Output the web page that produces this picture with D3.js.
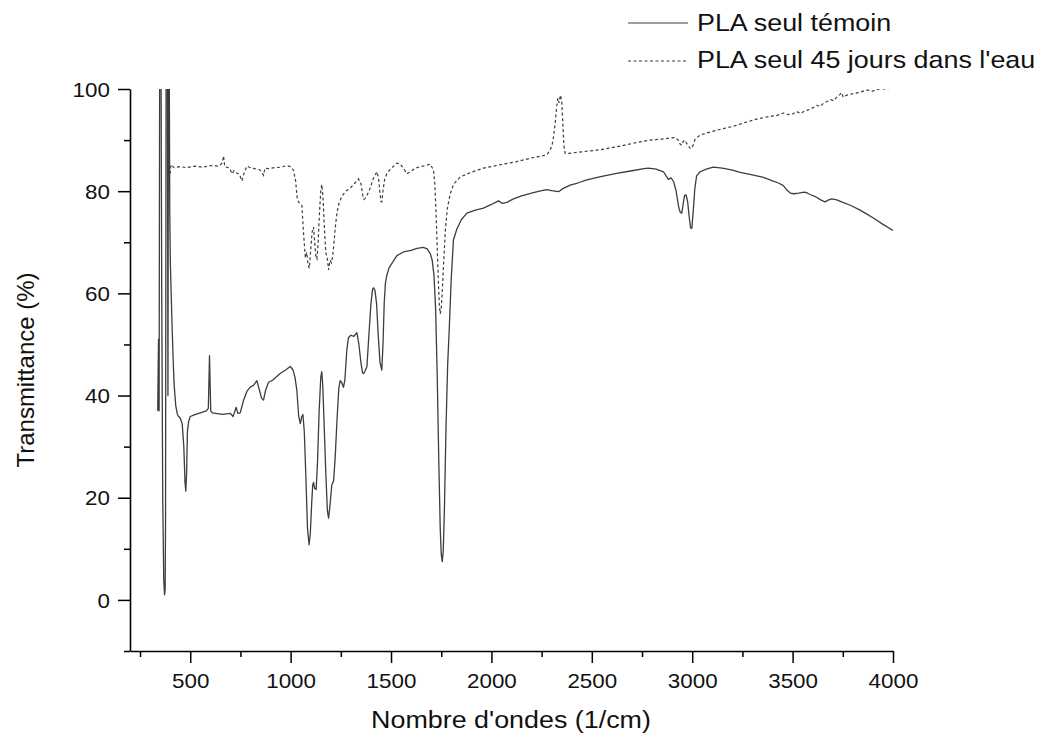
<!DOCTYPE html>
<html>
<head>
<meta charset="utf-8">
<script src="https://cdn.jsdelivr.net/npm/d3@7"></script>
<style>
  body { margin: 0; background: #fff; }
  svg { display: block; font-family: "Liberation Sans", Arial, sans-serif; }
</style>
</head>
<body>
<div id="chart"></div>
<script>
// ---------------------------------------------------------
// DATA  (wavenumber 1/cm, transmittance %)
// ---------------------------------------------------------
const seriesNames = ["PLA seul témoin", "PLA seul 45 jours dans l'eau"];

// PLA seul témoin (solid)
const temoin = [
  [338,37],[342,51],[345,37],[348,112],[354,112],[358,60],[363,20],[368,4],[372,1],[375,2],
  [377,15],[380,112],[386,112],[389,40],[392,112],[395,112],[398,76],[401,66],[405,60],[410,53],
  [415,47],[420,42],[428,38],[435,36.5],[440,36],[450,35.6],[460,34.5],[468,30],[474,23],[478,21.3],
  [482,25],[486,33],[492,34.9],[500,35.9],[520,36.2],[550,36.6],[580,37],[590,37.5],[596,47.8],[602,37],
  [610,36.6],[660,36.3],[700,36.5],[713,35.9],[721,36.8],[729,37.7],[737,36.5],[749,36.6],[765,39],[782,40.8],
  [800,41.7],[815,42],[832,42.9],[845,41],[855,39.5],[865,39.1],[875,41],[890,42.6],[910,43],[948,44.3],
  [975,45],[998,45.7],[1012,45],[1022,43.5],[1031,41],[1040,36],[1048,34.5],[1055,35.8],[1061,36.3],[1068,33],
  [1076,24],[1084,14],[1092,10.8],[1098,13],[1105,19],[1110,22.5],[1114,23],[1120,21.8],[1127,21.6],[1134,27],
  [1142,37],[1150,43.5],[1155,44.7],[1160,42],[1168,33],[1176,24],[1183,17.5],[1189,16],[1196,18.5],[1205,22.5],
  [1214,23.3],[1222,28],[1232,36],[1240,41.5],[1247,42.9],[1255,42.5],[1263,41.6],[1270,43],[1280,49],[1288,51.3],
  [1300,51.8],[1315,51.6],[1330,52.3],[1340,50],[1350,46.5],[1358,44.5],[1363,44.3],[1371,44.8],[1380,45.7],[1390,52],
  [1400,58],[1408,60.8],[1413,61.1],[1420,60.6],[1428,58],[1436,52],[1445,46.5],[1454,45],[1460,50],[1466,58],
  [1472,62],[1479,63.5],[1490,65],[1510,66.2],[1529,67.4],[1562,68.1],[1600,68.4],[1629,68.8],[1661,69],[1680,68.7],
  [1695,67.8],[1705,66.5],[1714,63.5],[1722,57],[1730,44],[1738,27],[1745,14],[1750,9],[1755,7.5],[1760,9.5],
  [1766,18],[1774,34],[1782,46],[1790,53],[1800,63],[1811,70.5],[1828,72.6],[1850,74.4],[1878,75.7],[1920,76.3],
  [1960,76.7],[2000,77.4],[2035,78.1],[2055,77.6],[2077,77.8],[2110,78.5],[2150,79.1],[2209,79.7],[2250,80.1],[2276,80.3],
  [2300,80.1],[2334,79.9],[2360,80.6],[2392,81.2],[2430,81.6],[2475,82.2],[2550,82.9],[2624,83.5],[2700,84],[2760,84.4],
  [2782,84.5],[2820,84.3],[2857,83.8],[2870,83],[2881,82.3],[2895,82.6],[2908,81.8],[2920,80],[2932,77],[2940,75.9],
  [2948,75.7],[2955,77.5],[2962,79.2],[2969,79.3],[2977,78],[2985,75],[2992,72.8],[2998,72.7],[3005,76],[3013,80.5],
  [3022,83],[3039,83.8],[3070,84.3],[3105,84.7],[3150,84.5],[3200,84.1],[3238,83.7],[3288,83.3],[3355,82.7],[3400,82],
  [3430,81.6],[3454,81.1],[3470,80.3],[3490,79.6],[3504,79.5],[3530,79.6],[3560,79.8],[3575,79.6],[3590,79.3],[3610,79],
  [3640,78.3],[3661,77.9],[3680,78.3],[3695,78.5],[3720,78.3],[3744,77.9],[3790,77.2],[3836,76.3],[3870,75.5],[3900,74.8],
  [3950,73.5],[4000,72.3]
];

// PLA seul 45 jours dans l'eau (dashed)
const eau45 = [
  [400,83.4],[404,85.2],[420,84.6],[450,84.8],[480,84.6],[520,84.9],[560,84.7],[600,85],[640,84.9],[655,85.3],
  [660,85.6],[666,86.9],[672,84.8],[690,84.6],[700,84.2],[708,83.4],[718,84],[728,83.6],[745,83.3],[757,82],
  [768,83.5],[782,84.9],[800,84.6],[820,84.4],[845,84.2],[858,83.6],[865,83.1],[872,84.5],[890,84.4],[920,84.6],
  [950,84.7],[981,85],[1000,84.8],[1014,84.1],[1025,82],[1033,78.5],[1039,77.9],[1048,77.5],[1056,77.2],[1064,72],
  [1073,67],[1080,68],[1087,65.5],[1093,64.9],[1100,68.5],[1107,72],[1114,73],[1120,70],[1126,67],[1131,66.7],
  [1137,70],[1144,76],[1150,80],[1155,81.3],[1161,79],[1168,73],[1175,68],[1182,67],[1189,64.6],[1196,66.5],
  [1203,66],[1210,67.4],[1216,70],[1224,73.5],[1232,76],[1240,77.5],[1255,79],[1275,80],[1297,80.6],[1318,81.5],
  [1338,82.4],[1350,81.5],[1360,79],[1365,78.4],[1371,78.6],[1380,79.2],[1390,80],[1396,80.6],[1412,82.5],[1430,83.8],
  [1438,82.5],[1445,79.5],[1450,78],[1454,77.9],[1460,80],[1468,82.3],[1479,83.4],[1495,84.2],[1510,84.8],[1529,85.5],
  [1545,85.3],[1560,84.6],[1579,83.4],[1600,83.9],[1620,84.5],[1645,84.8],[1670,85],[1695,85.3],[1705,84.6],[1712,84],
  [1718,81.5],[1724,76],[1730,69],[1736,62],[1741,57.5],[1745,56],[1750,57],[1756,61],[1762,66],[1770,72],
  [1780,76.5],[1795,79.5],[1812,81.4],[1845,82.8],[1900,83.7],[1960,84.5],[2010,84.9],[2060,85.3],[2126,85.8],[2200,86.5],
  [2276,87.1],[2292,88],[2302,89],[2310,90.8],[2318,93.5],[2325,96.5],[2331,98.2],[2337,97.3],[2344,98.8],[2350,97.6],
  [2356,93],[2361,89],[2367,87.4],[2383,87.4],[2450,87.7],[2541,88.1],[2650,88.9],[2720,89.5],[2790,90],[2850,90.2],
  [2915,90.5],[2930,90],[2940,89.2],[2948,89],[2955,89.7],[2962,90],[2970,89.5],[2980,88.9],[2990,88.4],[2998,88.4],
  [3006,89.2],[3015,90.2],[3039,91],[3100,91.7],[3150,92.2],[3205,92.7],[3260,93.4],[3320,94.1],[3380,94.6],[3420,94.8],
  [3454,95.3],[3480,95],[3500,95.1],[3520,95.6],[3540,95.2],[3560,95.7],[3578,95.9],[3600,96.3],[3620,96.8],[3640,96.6],
  [3653,97.2],[3670,97.5],[3690,97.9],[3705,97.7],[3720,98.4],[3735,98.9],[3744,99.3],[3752,98.4],[3770,98.8],[3800,99.1],
  [3830,99.3],[3869,99.8],[3900,99.6],[3930,100],[3960,100],[4000,100.2]
];

const xMajorTicks = [500, 1000, 1500, 2000, 2500, 3000, 3500, 4000];
const xMinorTicks = [250, 750, 1250, 1750, 2250, 2750, 3250, 3750];
const yMajorTicks = [0, 20, 40, 60, 80, 100];
const yMinorTicks = [-10, 10, 30, 50, 70, 90];

// ---------------------------------------------------------
// LAYOUT
// ---------------------------------------------------------
const width = 1047;
const height = 737;
const plot = { left: 130, right: 893, top: 89, bottom: 651 };
const stretch = 1.12; // the original picture is a bit wider than tall

const svg = d3.select("#chart").append("svg")
  .attr("width", width)
  .attr("height", height);

const x = d3.scaleLinear().domain([200, 4000]).range([plot.left, plot.right]);
const y = d3.scaleLinear().domain([-10, 100]).range([plot.bottom, plot.top]);

svg.append("defs").append("clipPath").attr("id", "plotClip")
  .append("rect")
  .attr("x", plot.left)
  .attr("y", plot.top)
  .attr("width", plot.right - plot.left)
  .attr("height", plot.bottom - plot.top);

// curves
const line = d3.line().x(d => x(d[0])).y(d => y(d[1]));

const curves = svg.append("g").attr("clip-path", "url(#plotClip)");

curves.append("path")
  .datum(temoin)
  .attr("fill", "none")
  .attr("stroke", "#3d3d3d")
  .attr("stroke-width", 1.3)
  .attr("stroke-linejoin", "round")
  .attr("d", line);

curves.append("path")
  .datum(eau45)
  .attr("fill", "none")
  .attr("stroke", "#3d3d3d")
  .attr("stroke-width", 1.2)
  .attr("stroke-dasharray", "3,2.5")
  .attr("d", line);

// ---------------------------------------------------------
// AXES
// ---------------------------------------------------------
function styleAxis(g) {
  g.select(".domain").attr("stroke", "#000").attr("stroke-width", 1.6);
  g.selectAll(".tick line").attr("stroke", "#000").attr("stroke-width", 1.5);
}

const xAxis = svg.append("g")
  .attr("transform", `translate(0,${plot.bottom})`)
  .call(d3.axisBottom(x).tickValues(xMajorTicks).tickSize(12).tickSizeOuter(0).tickFormat(d3.format("d")))
  .call(styleAxis);
xAxis.selectAll(".tick text")
  .attr("y", 37)
  .attr("dy", 0)
  .attr("font-size", 20)
  .attr("fill", "#111")
  .attr("font-family", "Liberation Sans, Arial, sans-serif")
  .attr("transform", `scale(${stretch},1)`);

svg.append("g")
  .attr("transform", `translate(0,${plot.bottom})`)
  .call(d3.axisBottom(x).tickValues(xMinorTicks).tickSize(6).tickSizeOuter(0).tickFormat(""))
  .call(styleAxis)
  .call(g => g.select(".domain").remove());

const yAxis = svg.append("g")
  .attr("transform", `translate(${plot.left},0)`)
  .call(d3.axisLeft(y).tickValues(yMajorTicks).tickSize(12).tickSizeOuter(0).tickFormat(d3.format("d")))
  .call(styleAxis);
yAxis.selectAll(".tick text")
  .attr("x", -18)
  .attr("dy", "0.36em")
  .attr("font-size", 20)
  .attr("fill", "#111")
  .attr("font-family", "Liberation Sans, Arial, sans-serif")
  .attr("transform", `scale(${stretch},1)`);

svg.append("g")
  .attr("transform", `translate(${plot.left},0)`)
  .call(d3.axisLeft(y).tickValues(yMinorTicks).tickSize(6).tickSizeOuter(0).tickFormat(""))
  .call(styleAxis)
  .call(g => g.select(".domain").remove());

// axis titles
svg.append("text")
  .attr("transform", `translate(511,728) scale(${stretch},1)`)
  .attr("text-anchor", "middle")
  .attr("font-size", 24)
  .attr("fill", "#111")
  .text("Nombre d'ondes (1/cm)");

svg.append("text")
  .attr("transform", `translate(34,${(plot.top + plot.bottom) / 2}) rotate(-90)`)
  .attr("text-anchor", "middle")
  .attr("font-size", 24)
  .attr("fill", "#111")
  .text("Transmittance (%)");

// ---------------------------------------------------------
// LEGEND
// ---------------------------------------------------------
const legendRows = [
  { name: seriesNames[0], dash: null, lineY: 23, textY: 31 },
  { name: seriesNames[1], dash: "3,2.5", lineY: 61, textY: 68 }
];

const legend = svg.append("g");
legendRows.forEach(r => {
  legend.append("line")
    .attr("x1", 628).attr("x2", 688)
    .attr("y1", r.lineY).attr("y2", r.lineY)
    .attr("stroke", "#3d3d3d")
    .attr("stroke-width", 1.2)
    .attr("stroke-dasharray", r.dash);
  legend.append("text")
    .attr("transform", `translate(697,${r.textY}) scale(${stretch},1)`)
    .attr("font-size", 24)
    .attr("fill", "#111")
    .text(r.name);
});
</script>
</body>
</html>
